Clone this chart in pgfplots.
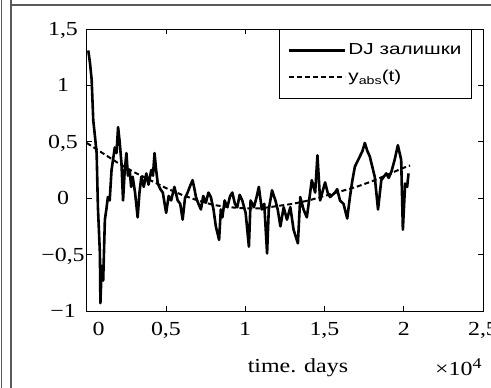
\documentclass[border=0pt]{standalone}
\usepackage{fontspec}
\setmainfont{Liberation Serif}
\newfontfamily\tnr[FakeStretch=1.2]{Liberation Serif}
\newfontfamily\ars[FakeStretch=1.3]{Liberation Sans}
\usepackage{pgfplots}
\pgfplotsset{compat=1.18}
\begin{document}
\begin{tikzpicture}
\path[use as bounding box] (-86.7bp,-77bp) rectangle (404.3bp,311bp);
\draw[gray!70!black, line width=1.2bp] (-85.5bp,-77bp) -- (-85.5bp,311bp);
\draw[gray!70!black, line width=1.2bp] (-75.7bp,-77bp) -- (-75.7bp,311bp);
\draw[gray!70!black, line width=1.2bp] (-76.3bp,306bp) -- (404.3bp,306bp);
\begin{axis}[
  scale only axis, width=396.3bp, height=282bp,
  xmin=0, xmax=25000, ymin=-1, ymax=1.5,
  clip=false,
  axis line style={line width=0.9bp},
  tick style={line width=0.8bp, black},
  tick align=inside, major tick length=5bp,
  xtick={0,5000,10000,15000,20000,25000},
  xticklabels={\hspace*{24bp}0,{0,5},1,{1,5},2,{2,5}},
  ytick={-1,-0.5,0,0.5,1,1.5},
  yticklabels={−1,{−0,5},0,{0,5},1,{1,5}},
  scaled x ticks=false,
  xticklabel style={font=\tnr\fontsize{20}{21}\selectfont, anchor=base, yshift=-24bp},
  yticklabel style={font=\tnr\fontsize{20}{21}\selectfont, anchor=base, xshift=-23.7bp, yshift=-6.5bp},
  xlabel={time. days},
  xlabel style={font=\tnr\fontsize{20}{21}\selectfont, at={(axis description cs:0.533,0)}, anchor=base, yshift=-61bp},
  ylabel={залишки},
  ylabel style={font=\fontsize{28}{30}\selectfont, at={(axis description cs:0,0)}, anchor=center, xshift=-51.7bp, yshift=111bp},
  legend style={at={(axis description cs:0.972,1)}, anchor=north east, draw=black, line width=0.8bp,
    font=\ars\fontsize{16}{18}\selectfont, inner xsep=8bp, inner ysep=12bp, row sep=9bp,
    nodes={inner sep=2bp, text height=11bp, text depth=3bp}},
  legend cell align=left,
  legend image code/.code={\draw[#1] (0bp,0bp) -- (56bp,0bp);},
]
\addplot[black, line width=2.6bp, line join=round] coordinates {
(100,1.31)(207,1.20)(313,1.05)(414,0.69)(520,0.55)(627,0.40)(708,-0.08)(833,-0.49)(865,-0.93)(950,-0.60)(1040,-0.73)(1147,-0.19)(1240,-0.10)(1335,0.01)(1450,-0.02)(1567,0.25)(1773,0.45)(1880,0.40)(1980,0.63)(2080,0.50)(2193,0.31)(2293,-0.02)(2400,0.25)(2506,0.40)(2600,0.20)(2713,0.25)(2801,0.10)(2901,0.19)(3050,0.05)(3214,-0.17)(3330,0.05)(3446,0.19)(3600,0.10)(3760,0.22)(3900,0.12)(4073,0.25)(4180,0.20)(4280,0.40)(4380,0.25)(4486,0.13)(4650,0.08)(4800,0.05)(5013,-0.13)(5170,0.02)(5326,-0.02)(5533,0.10)(5740,-0.02)(5900,-0.05)(6053,-0.19)(6200,0.00)(6366,0.05)(6500,0.10)(6680,0.16)(6800,0.08)(6893,0.01)(7050,-0.05)(7206,-0.10)(7350,0.02)(7519,-0.04)(7680,0.05)(7833,0.01)(8000,-0.10)(8146,-0.25)(8353,-0.37)(8460,-0.10)(8560,-0.17)(8700,-0.02)(8873,-0.08)(9050,0.02)(9186,0.05)(9350,-0.05)(9499,-0.08)(9650,0.03)(9813,-0.02)(10026,-0.13)(10233,-0.43)(10339,-0.02)(10546,-0.08)(10700,0.00)(10859,0.10)(11047,-0.10)(11200,-0.05)(11379,-0.49)(11486,-0.10)(11693,0.07)(11906,-0.02)(12050,-0.10)(12219,-0.25)(12426,-0.08)(12633,-0.19)(12846,-0.08)(13052,-0.28)(13322,-0.40)(13472,0.01)(13679,-0.10)(13886,-0.17)(14050,0.00)(14199,0.16)(14412,0.05)(14556,0.38)(14725,-0.02)(15038,0.14)(15200,0.05)(15352,0.01)(15665,0.05)(15800,0.08)(15978,-0.02)(16200,-0.05)(16436,-0.18)(16605,0.01)(16750,0.15)(16918,0.28)(17232,0.37)(17400,0.42)(17545,0.49)(17700,0.42)(17858,0.37)(18171,0.19)(18378,-0.10)(18585,0.16)(18898,0.22)(19050,0.18)(19212,0.23)(19425,0.34)(19631,0.47)(19838,0.34)(19945,-0.28)(20089,0.13)(20215,0.10)(20302,0.22)
};
\addlegendentry{DJ залишки}
\addplot[black, line width=2bp, dash pattern=on 5bp off 3bp] coordinates {
(0,0.49)(1000,0.40)(2000,0.31)(3000,0.23)(4000,0.16)(5000,0.09)(6000,0.03)(7000,-0.02)(8000,-0.06)(9000,-0.08)(10000,-0.09)(11000,-0.09)(12000,-0.07)(13000,-0.05)(14000,-0.02)(15000,0.02)(16000,0.06)(17000,0.10)(18000,0.15)(19000,0.21)(20000,0.27)(20400,0.29)
};
\addlegendentry{y\raisebox{-0.4ex}{\fontsize{11}{12}\selectfont abs}(t)}
\node[font=\tnr\fontsize{20}{21}\selectfont, anchor=base west, inner sep=0pt] at (axis description cs:0.879,0) [yshift=-64bp] {×10\raisebox{0.75ex}{\fontsize{15}{16}\selectfont 4}};
\end{axis}
\end{tikzpicture}
\end{document}
